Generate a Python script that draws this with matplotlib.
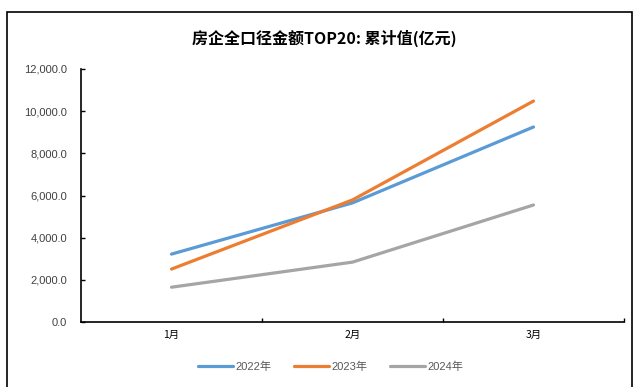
import matplotlib
matplotlib.use('Agg')
import matplotlib.pyplot as plt
from matplotlib.patches import Rectangle
from matplotlib.ticker import FuncFormatter

plt.rcParams['font.family'] = ['Liberation Sans', 'Noto Sans CJK SC', 'DejaVu Sans']

months = ['1月', '2月', '3月']
years = ['2022年', '2023年', '2024年']
v2022 = [3220, 5650, 9250]
v2023 = [2510, 5790, 10480]
v2024 = [1650, 2840, 5550]
colors = ['#5B9BD5', '#ED7D31', '#A5A5A5']

fig = plt.figure(figsize=(6.42, 3.87), dpi=100)
ax = fig.add_axes([81/642, 1-322/387, (624-81)/642, (322-69)/387])

x = range(len(months))
for vals, lab, c in zip([v2022, v2023, v2024], years, colors):
    ax.plot(x, vals, color=c, lw=2.3, label=lab, solid_capstyle='round')

ax.set_xlim(-0.5, 2.5)
ax.set_ylim(0, 12000)
ax.set_yticks(range(0, 12001, 2000))
ax.yaxis.set_major_formatter(FuncFormatter(lambda v, p: f'{v:,.1f}'))
ax.set_xticks([0.5, 1.5, 2.5])
ax.set_xticklabels([])
ax.set_xticks([0, 1, 2], minor=True)
ax.set_xticklabels(months, minor=True, family=['Noto Sans CJK SC'], fontsize=7.5)
ax.tick_params(axis='x', which='minor', length=0, pad=6)
ax.tick_params(axis='x', which='major', length=3, width=1, direction='in')
ax.tick_params(axis='y', length=3, width=1, direction='in', labelsize=8, pad=10, colors='black')
ax.spines['top'].set_visible(False)
ax.spines['right'].set_visible(False)
for s in ['left', 'bottom']:
    ax.spines[s].set_linewidth(1.2)
for t in ax.get_yticklabels():
    t.set_color('#404040')

fig.text(0.505, 1-38/387, '房企全口径金额TOP20: 累计值(亿元)', ha='center', va='center',
         family=['Noto Sans CJK SC'], fontweight='bold', fontsize=11.5)

leg = fig.legend(loc='center', bbox_to_anchor=(0.515, 1-367/387), ncol=3, frameon=False,
                 fontsize=8, handlelength=3.2, handletextpad=0.2, columnspacing=2.0)
for t in leg.get_texts():
    t.set_color('#595959')
    t.set_family(['Liberation Sans', 'Noto Sans CJK SC'])

fig.patches.append(Rectangle((7/642, -0.05), (632-7)/642, 1.05-12/387,
                             transform=fig.transFigure, fill=False, ec='black', lw=1.2))

fig.savefig('out.png', dpi=100)
